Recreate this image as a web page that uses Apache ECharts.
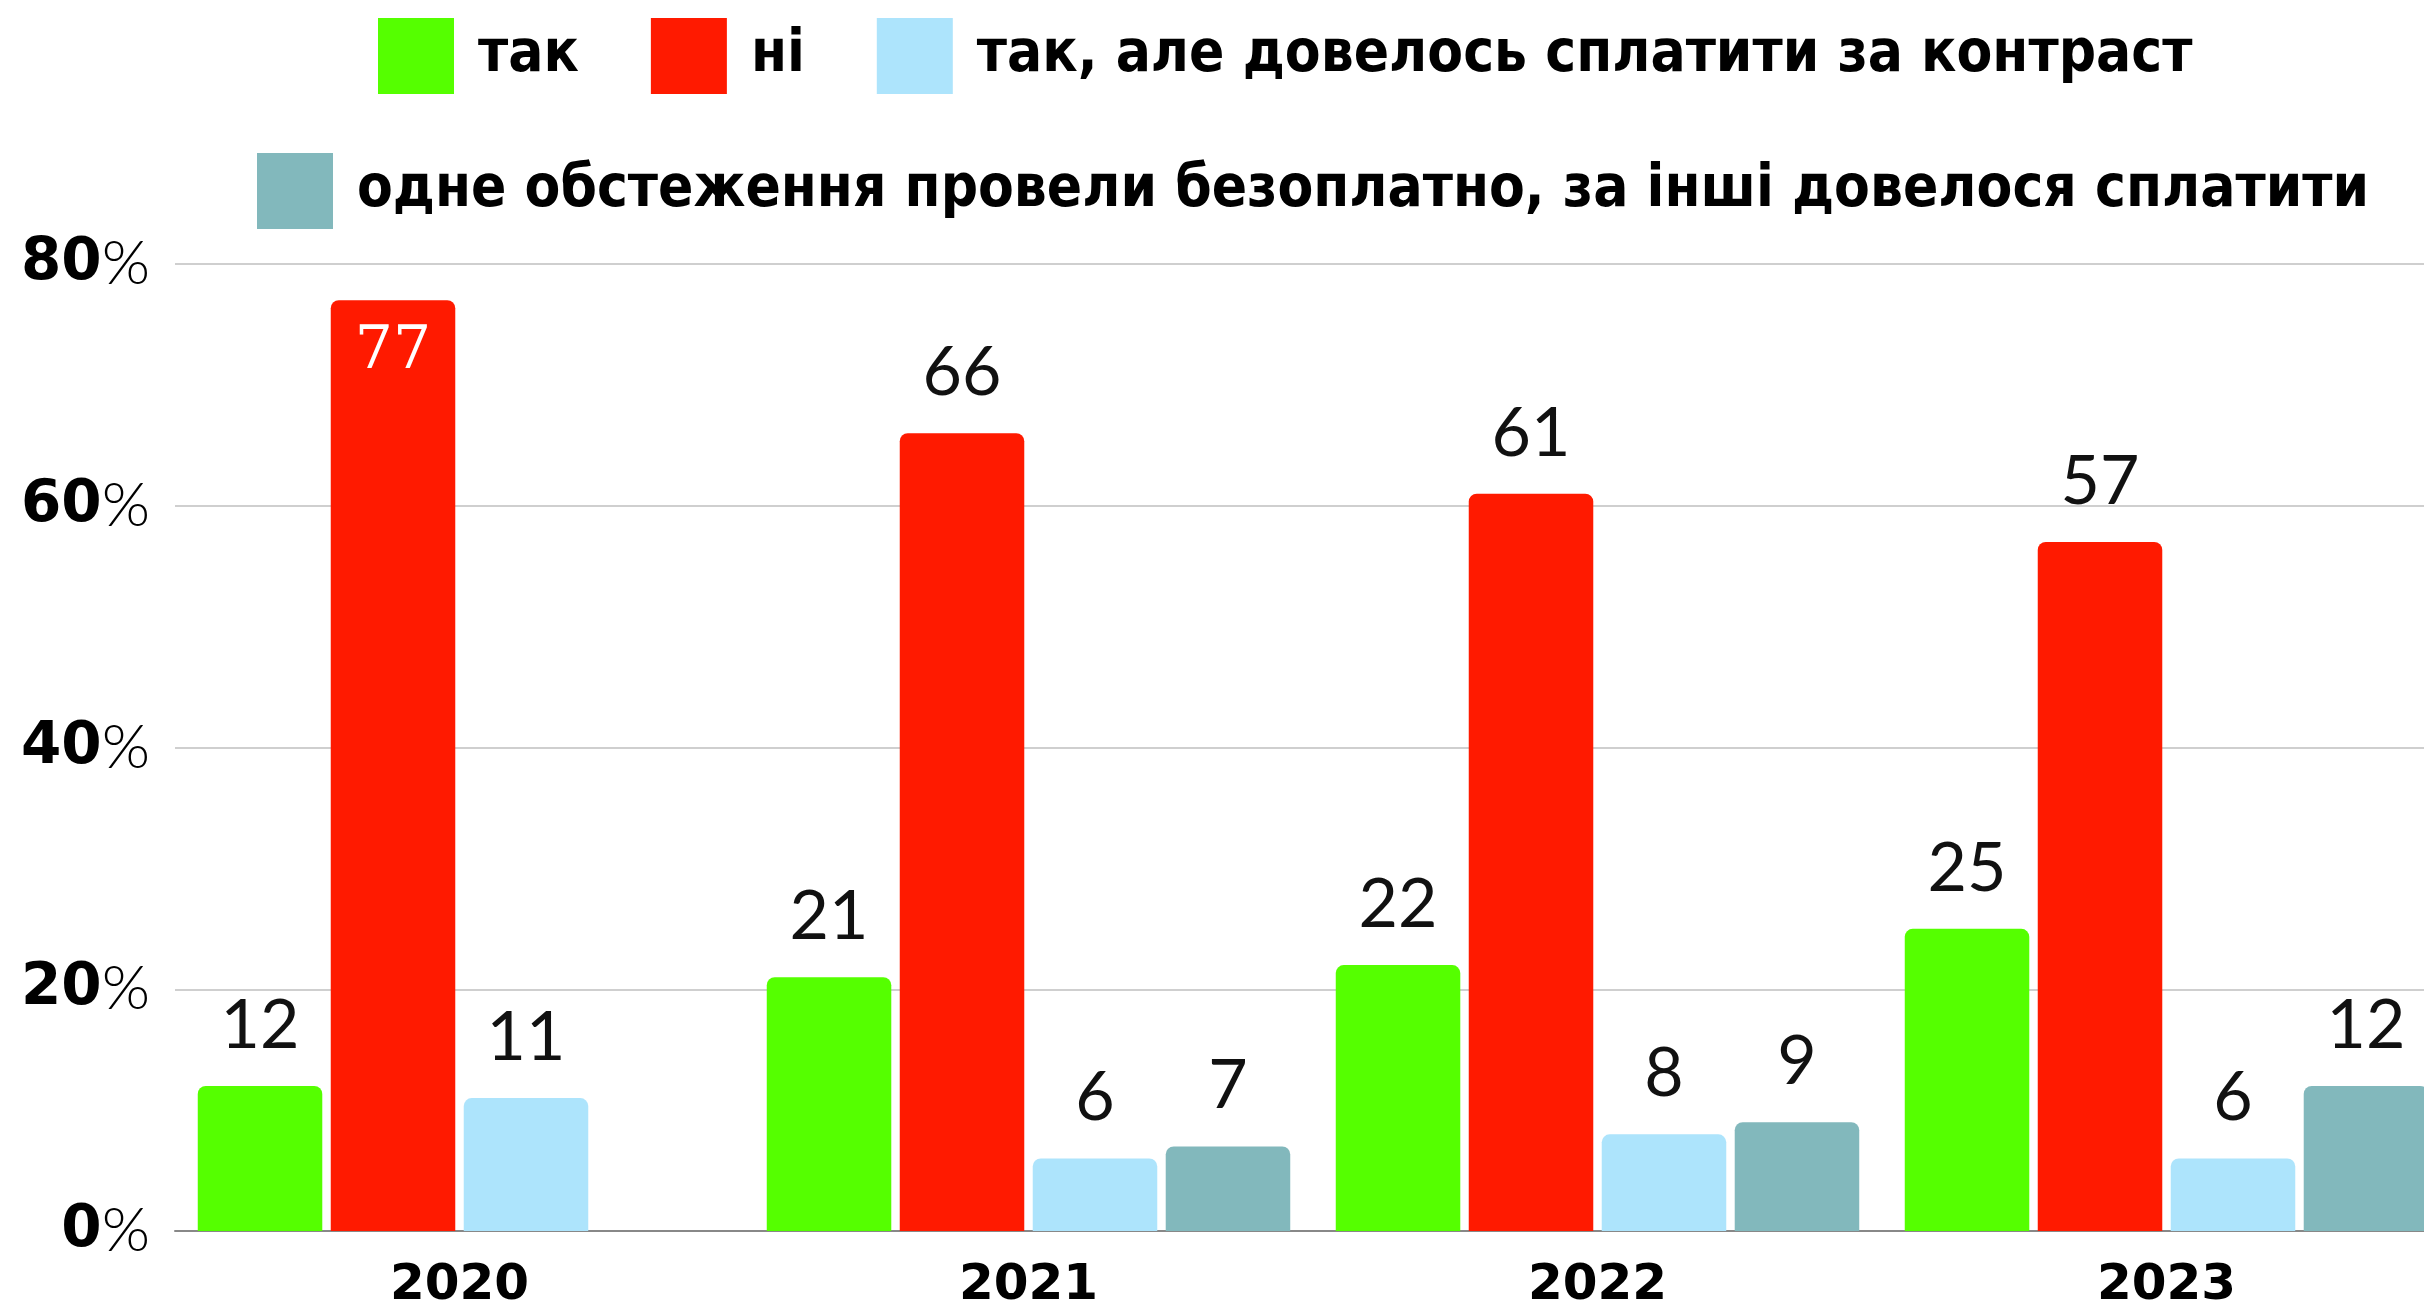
<!DOCTYPE html>
<html>
<head>
<meta charset="utf-8">
<script src="https://cdn.jsdelivr.net/npm/echarts@6/dist/echarts.min.js"></script>
<style>
  html, body { margin: 0; padding: 0; background: #fff; }
  #chart { width: 2424px; height: 1313px; }
</style>
</head>
<body>
<div id="chart"></div>
<script type="text/javascript">
// дані
var years = ['2020', '2021', '2022', '2023'];
var yesVals = [12, 21, 22, 25];
var noVals = [77, 66, 61, 57];
var paidContrast = [11, 6, 8, 6];
var partlyPaid = [null, 7, 9, 12];
var yTicks = [0, 20, 40, 60, 80];

var names = [
  'так',
  'ні',
  'так, але довелось сплатити за контраст',
  'одне обстеження провели безоплатно, за інші довелося сплатити'
];
var colors = ['#55ff00', '#ff1a00', '#ade4fc', '#82b8bc'];

var labelStyle = {
  show: true,
  position: 'top',
  distance: 26,
  fontFamily: 'Lato',
  fontSize: 68,
  color: '#111'
};

function makeSeries(i, data) {
  return {
    name: names[i],
    type: 'bar',
    data: data,
    barGap: '6.8%',
    barCategoryGap: '8%',
    itemStyle: { color: colors[i], borderRadius: [8, 8, 0, 0] },
    label: labelStyle
  };
}

// 77 стоїть всередині стовпчика
var noData = noVals.map(function (v, i) {
  if (i === 0) {
    return {
      value: v,
      label: { position: 'insideTop', distance: 22, color: '#fff', fontFamily: 'DejaVu Serif', fontSize: 60 }
    };
  }
  return v;
});

var legendText = {
  fontFamily: "'DejaVu Sans Condensed', 'Liberation Sans'",
  fontWeight: 'bold',
  fontSize: 58,
  color: '#000',
  padding: [0, 0, 0, 19]
};

var chart = echarts.init(document.getElementById('chart'));
var option = {
  animation: false,
  backgroundColor: '#fff',
  legend: [
    {
      data: names.slice(0, 3),
      left: 373, top: 13,
      icon: 'rect', itemWidth: 76, itemHeight: 76, itemGap: 72,
      textStyle: legendText
    },
    {
      data: names.slice(3),
      left: 252, top: 148,
      icon: 'rect', itemWidth: 76, itemHeight: 76,
      textStyle: legendText
    }
  ],
  grid: { left: 175, top: 264, width: 2276, height: 967, outerBoundsMode: 'none', containLabel: false },
  xAxis: {
    type: 'category',
    data: years,
    axisLine: { lineStyle: { color: '#888', width: 2 } },
    axisTick: { show: false },
    axisLabel: { fontFamily: 'DejaVu Sans', fontWeight: 'bold', fontSize: 50, color: '#000', margin: 30 }
  },
  yAxis: {
    type: 'value',
    min: yTicks[0], max: yTicks[yTicks.length - 1], interval: 20,
    splitLine: { lineStyle: { color: '#cfcfcf', width: 2 } },
    axisLabel: {
      margin: 25,
      formatter: function (v) { return '{n|' + v + '}{p|%}'; },
      rich: {
        n: { fontFamily: 'DejaVu Sans', fontWeight: 'bold', fontSize: 58, color: '#000' },
        p: { fontFamily: 'Lato', fontWeight: 300, fontSize: 62, color: '#000' }
      }
    }
  },
  series: [
    makeSeries(0, yesVals),
    makeSeries(1, noData),
    makeSeries(2, paidContrast),
    makeSeries(3, partlyPaid)
  ]
};
chart.setOption(option);
</script>
</body>
</html>
